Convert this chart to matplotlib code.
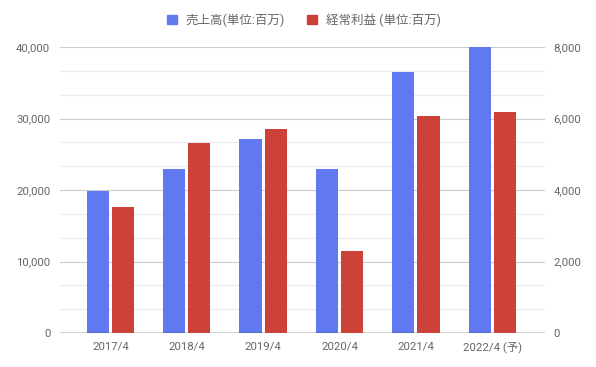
import matplotlib
matplotlib.use("Agg")
import matplotlib.pyplot as plt
import numpy as np
from matplotlib.ticker import FuncFormatter, MultipleLocator
from matplotlib.patches import Patch

categories = ["2017/4", "2018/4", "2019/4", "2020/4", "2021/4", "2022/4 (予)"]
sales = [19900, 23000, 27100, 22950, 36500, 40000]
profit = [3520, 5310, 5700, 2300, 6070, 6190]
sales_label = "売上高(単位:百万)"
profit_label = "経常利益 (単位:百万)"

plt.rcParams['font.family'] = ['Roboto', 'Noto Sans CJK JP', 'DejaVu Sans']

blue = "#6079f0"
red = "#cc4239"
txt = "#666666"

fig = plt.figure(figsize=(5.96, 3.67), dpi=100)
ax = fig.add_axes([60/596, 1-333/367, 485/596, 286/367])
ax2 = ax.twinx()

x = np.arange(len(categories))
w = 0.29
off = 0.165
ax.bar(x - off, sales, w, color=blue, zorder=3)
ax2.bar(x + off, profit, w, color=red, zorder=3)

ax.set_xlim(-0.66, 5.69)
ax.set_ylim(0, 40000)
ax2.set_ylim(0, 8000)

ax.yaxis.set_major_locator(MultipleLocator(10000))
ax.yaxis.set_minor_locator(MultipleLocator(10000/3))
ax2.yaxis.set_major_locator(MultipleLocator(2000))
fmt = FuncFormatter(lambda v, p: f"{int(v):,}")
ax.yaxis.set_major_formatter(fmt)
ax2.yaxis.set_major_formatter(fmt)

ax.grid(True, which='major', axis='y', color='#cccccc', lw=0.8, zorder=0)
ax.grid(True, which='minor', axis='y', color='#ebebeb', lw=0.8, zorder=0)
ax.set_axisbelow(True)

for a in (ax, ax2):
    for s in a.spines.values():
        s.set_visible(False)
    a.tick_params(length=0, colors=txt, labelsize=8.2)
ax.tick_params(axis='y', which='minor', length=0)
ax.tick_params(axis='y', pad=7)
ax2.tick_params(axis='y', pad=6)
ax.axhline(0, color='#333333', lw=1.0, zorder=4)

ax.set_xticks(x)
ax.set_xticklabels(categories)
ax.tick_params(axis='x', pad=6)

handles = [Patch(color=blue, label=sales_label), Patch(color=red, label=profit_label)]
fig.legend(handles=handles, loc='center', bbox_to_anchor=(0.51, 1-20/367), ncol=2,
           frameon=False, fontsize=9, labelcolor=txt, handlelength=0.8, handleheight=0.8,
           columnspacing=1.8, handletextpad=0.7)

fig.savefig("out.png", dpi=100)
